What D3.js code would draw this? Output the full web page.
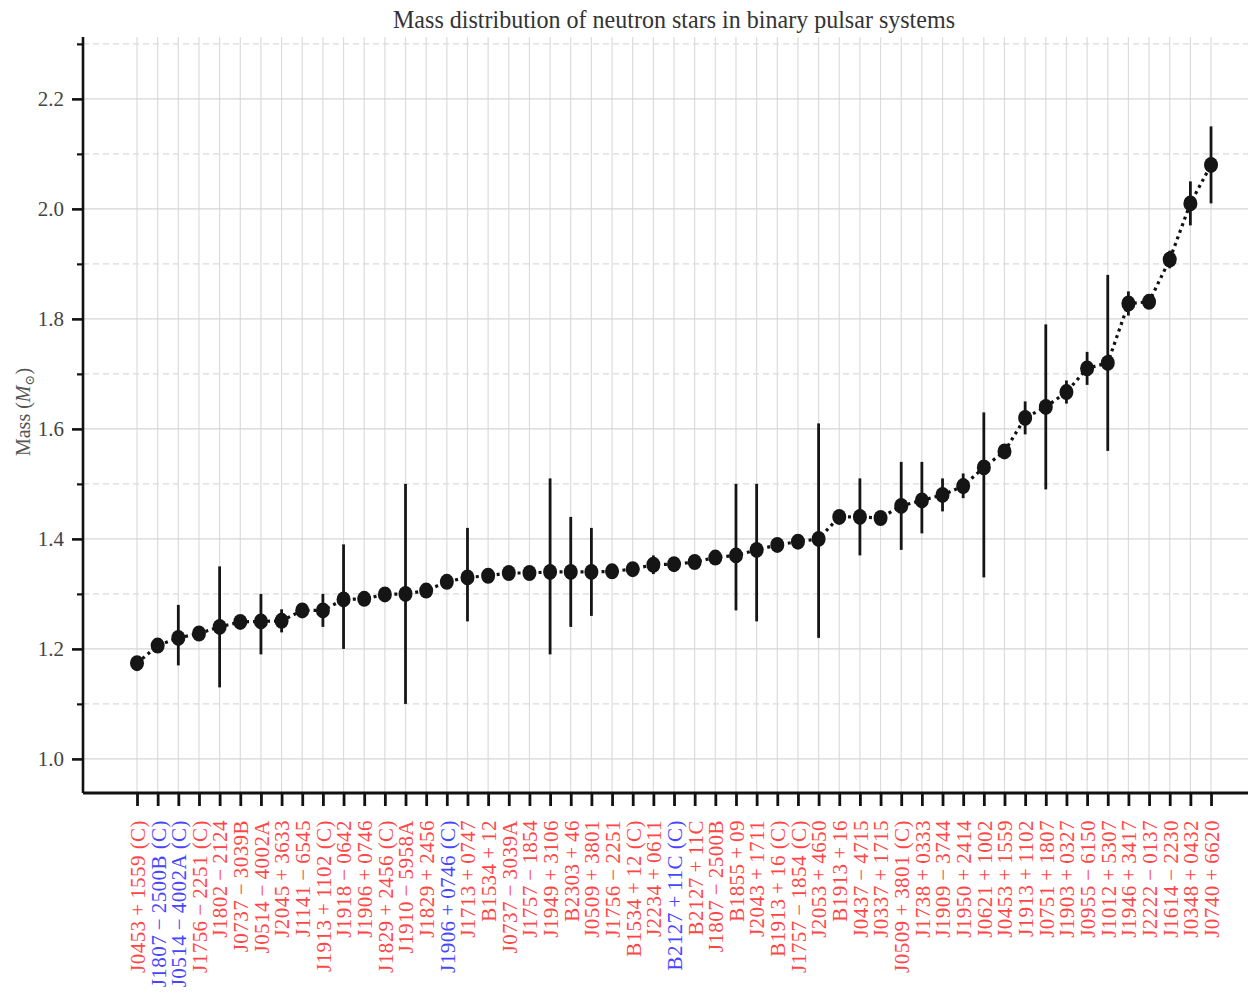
<!DOCTYPE html>
<html>
<head>
<meta charset="utf-8">
<script src="https://cdn.jsdelivr.net/npm/d3@7"></script>
<style>
  html, body { margin: 0; padding: 0; background: #fff; }
  svg { display: block; }
  text { font-family: "Liberation Serif", "DejaVu Serif", serif; }
</style>
</head>
<body>
<svg id="chart" width="1248" height="994"></svg>
<script>
// Pulsar names, in order of increasing mass
const pulsars = [
  "J0453+1559 (C)", "J1807\u22122500B (C)", "J0514\u22124002A (C)", "J1756\u22122251 (C)",
  "J1802\u22122124", "J0737\u22123039B", "J0514\u22124002A", "J2045+3633",
  "J1141\u22126545", "J1913+1102 (C)", "J1918\u22120642", "J1906+0746",
  "J1829+2456 (C)", "J1910\u22125958A", "J1829+2456", "J1906+0746 (C)",
  "J1713+0747", "B1534+12", "J0737\u22123039A", "J1757\u22121854",
  "J1949+3106", "B2303+46", "J0509+3801", "J1756\u22122251",
  "B1534+12 (C)", "J2234+0611", "B2127+11C (C)", "B2127+11C",
  "J1807\u22122500B", "B1855+09", "J2043+1711", "B1913+16 (C)",
  "J1757\u22121854 (C)", "J2053+4650", "B1913+16", "J0437\u22124715",
  "J0337+1715", "J0509+3801 (C)", "J1738+0333", "J1909\u22123744",
  "J1950+2414", "J0621+1002", "J0453+1559", "J1913+1102",
  "J0751+1807", "J1903+0327", "J0955\u22126150", "J1012+5307",
  "J1946+3417", "J2222\u22120137", "J1614\u22122230", "J0348+0432",
  "J0740+6620"
];

// Measured masses (solar masses)
const masses = [
  1.174, 1.206, 1.22, 1.228, 1.24, 1.249, 1.25, 1.251,
  1.27, 1.27, 1.29, 1.291, 1.299, 1.30, 1.306, 1.322,
  1.33, 1.333, 1.338, 1.338, 1.34, 1.34, 1.34, 1.341,
  1.345, 1.353, 1.354, 1.358, 1.366, 1.37, 1.38, 1.389,
  1.395, 1.40, 1.44, 1.44, 1.438, 1.46, 1.47, 1.48,
  1.496, 1.53, 1.559, 1.62, 1.64, 1.667, 1.71, 1.72,
  1.828, 1.831, 1.908, 2.01, 2.08
];

// Lower and upper uncertainties
const errLow = [
  0.004, 0.002, 0.05, 0.008, 0.11, 0.001, 0.06, 0.021,
  0.01, 0.03, 0.09, 0.011, 0.007, 0.20, 0.007, 0.011,
  0.08, 0.001, 0.001, 0.001, 0.15, 0.10, 0.08, 0.007,
  0.001, 0.017, 0.01, 0.01, 0.002, 0.10, 0.13, 0.001,
  0.002, 0.18, 0.001, 0.07, 0.001, 0.08, 0.06, 0.03,
  0.022, 0.20, 0.004, 0.03, 0.15, 0.021, 0.03, 0.16,
  0.022, 0.010, 0.016, 0.04, 0.07
];
const errHigh = [
  0.004, 0.002, 0.06, 0.008, 0.11, 0.001, 0.05, 0.021,
  0.01, 0.03, 0.10, 0.011, 0.007, 0.20, 0.007, 0.011,
  0.09, 0.001, 0.001, 0.001, 0.17, 0.10, 0.08, 0.007,
  0.001, 0.017, 0.01, 0.01, 0.002, 0.13, 0.12, 0.001,
  0.002, 0.21, 0.001, 0.07, 0.001, 0.08, 0.07, 0.03,
  0.023, 0.10, 0.004, 0.03, 0.15, 0.021, 0.03, 0.16,
  0.022, 0.010, 0.016, 0.04, 0.07
];

// Labels drawn in blue; all the others are red
const blueLabels = [
  "J1807\u22122500B (C)", "J0514\u22124002A (C)",
  "J1906+0746 (C)", "B2127+11C (C)"
];

const majorTicks = [1.0, 1.2, 1.4, 1.6, 1.8, 2.0, 2.2];
const minorTicks = [1.1, 1.3, 1.5, 1.7, 1.9, 2.1, 2.3];

const titleText = "Mass distribution of neutron stars in binary pulsar systems";

// Typeset a name with thin spaces around the sign, as in math mode
const typeset = s => s.replace(/([+\u2212])/, "\u2009$1\u2009");

const svg = d3.select("#chart");
const plotLeft = 83, plotRight = 1248, plotTop = 37, plotBottom = 793;

const n = pulsars.length;
const x = d3.scaleLinear().domain([-2.615, 53.79]).range([plotLeft, plotRight]);
const y = d3.scaleLinear().domain([0.938, 2.3125]).range([plotBottom, plotTop]);

// Grid
const grid = svg.append("g");
grid.selectAll("line.vg").data(d3.range(n)).join("line")
  .attr("x1", i => x(i)).attr("x2", i => x(i))
  .attr("y1", plotTop).attr("y2", plotBottom)
  .attr("stroke", "#dcdcdc").attr("stroke-width", 1.2);
grid.selectAll("line.hmaj").data(majorTicks).join("line")
  .attr("x1", plotLeft).attr("x2", plotRight)
  .attr("y1", d => y(d)).attr("y2", d => y(d))
  .attr("stroke", "#d6d6d6").attr("stroke-width", 1.3);
grid.selectAll("line.hmin").data(minorTicks).join("line")
  .attr("x1", plotLeft).attr("x2", plotRight)
  .attr("y1", d => y(d)).attr("y2", d => y(d))
  .attr("stroke", "#dadada").attr("stroke-width", 1.2)
  .attr("stroke-dasharray", "6,4");

// Y axis: major ticks with labels, minor ticks without
const yAxis = svg.append("g").attr("transform", `translate(${plotLeft},0)`)
  .call(d3.axisLeft(y).tickValues(majorTicks).tickFormat(d3.format(".1f")).tickSize(11).tickPadding(8));
svg.append("g").attr("transform", `translate(${plotLeft},0)`)
  .call(d3.axisLeft(y).tickValues(minorTicks).tickFormat("").tickSize(6))
  .call(g => g.select(".domain").remove())
  .selectAll("line").attr("stroke", "#111").attr("stroke-width", 2.2);
yAxis.select(".domain").attr("d", `M0,${plotTop}V${plotBottom}`).attr("stroke", "#111").attr("stroke-width", 2.6);
yAxis.selectAll(".tick line").attr("stroke", "#111").attr("stroke-width", 2.6);
yAxis.selectAll(".tick text")
  .attr("font-family", "'Liberation Serif', serif")
  .attr("font-size", 21).attr("fill", "#444");

// X axis with rotated pulsar names
const xAxis = svg.append("g").attr("transform", `translate(0,${plotBottom})`)
  .call(d3.axisBottom(x).tickValues(d3.range(n)).tickFormat(i => typeset(pulsars[i])).tickSize(13).tickPadding(6));
xAxis.select(".domain").attr("d", `M${plotLeft},0H${plotRight}`).attr("stroke", "#111").attr("stroke-width", 2.8);
xAxis.selectAll(".tick line").attr("stroke", "#111").attr("stroke-width", 2.8);
xAxis.selectAll(".tick text")
  .attr("font-family", "'Liberation Serif', serif")
  .attr("font-size", 21)
  .attr("letter-spacing", 0.45)
  .attr("transform", "rotate(-90)")
  .attr("text-anchor", "end")
  .attr("dy", "0.35em")
  .attr("x", -27).attr("y", 0)
  .attr("fill", (i) => blueLabels.includes(pulsars[i]) ? "#4646ff" : "#ff4646");

// Connecting dotted line
const line = d3.line().x((d, i) => x(i)).y(d => y(d));
svg.append("path").datum(masses)
  .attr("d", line).attr("fill", "none")
  .attr("stroke", "#111").attr("stroke-width", 3.2)
  .attr("stroke-dasharray", "3,4");

// Error bars
svg.append("g").selectAll("line").data(masses).join("line")
  .attr("x1", (d, i) => x(i)).attr("x2", (d, i) => x(i))
  .attr("y1", (d, i) => y(d - errLow[i])).attr("y2", (d, i) => y(d + errHigh[i]))
  .attr("stroke", "#151515").attr("stroke-width", 2.8);

// Markers
svg.append("g").selectAll("ellipse").data(masses).join("ellipse")
  .attr("cx", (d, i) => x(i)).attr("cy", d => y(d))
  .attr("rx", 7).attr("ry", 8)
  .attr("fill", "#151515");

// Title
svg.append("text")
  .attr("x", 674).attr("y", 28)
  .attr("text-anchor", "middle")
  .attr("font-size", 25).attr("fill", "#333")
  .attr("textLength", 562).attr("lengthAdjust", "spacingAndGlyphs")
  .text(titleText);

// Y axis label
const yl = svg.append("text")
  .attr("transform", "translate(30,412) rotate(-90)")
  .attr("text-anchor", "middle")
  .attr("font-size", 20).attr("fill", "#555");
yl.append("tspan").text("Mass (");
yl.append("tspan").attr("font-style", "italic").text("M");
yl.append("tspan").attr("font-size", 13).attr("dy", 4).text("\u2299");
yl.append("tspan").attr("dy", -4).text(")");
</script>
</body>
</html>
